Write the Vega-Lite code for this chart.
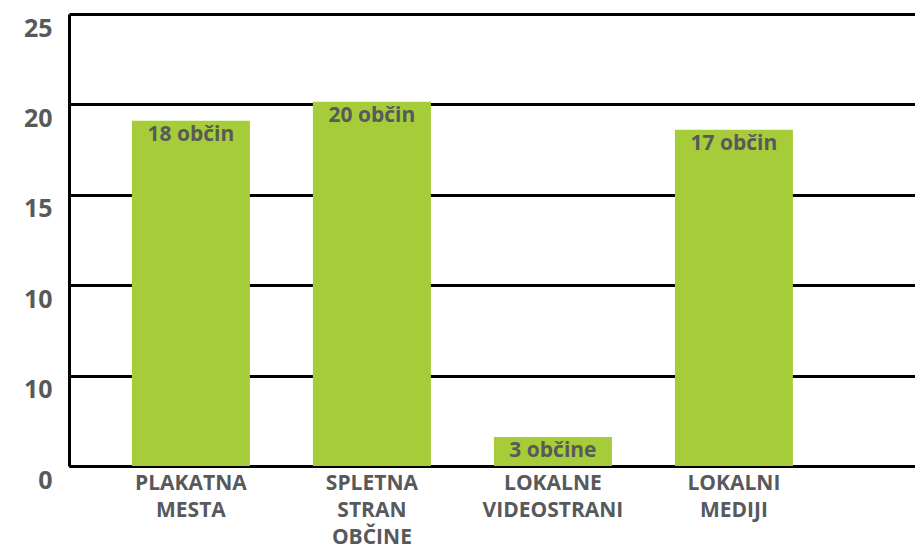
{
  "$schema": "https://vega.github.io/schema/vega-lite/v6.json",
  "autosize": "none",
  "width": 846,
  "height": 452,
  "padding": {"left": 69, "top": 14, "right": 0, "bottom": 83},
  "background": "white",
  "config": {
    "view": {"stroke": null},
    "font": "Open Sans"
  },
  "data": {
    "values": [
      {"kategorija": "PLAKATNA MESTA", "vrednost": 19.1, "oznaka": "18 občin"},
      {"kategorija": "SPLETNA STRAN OBČINE", "vrednost": 20.15, "oznaka": "20 občin"},
      {"kategorija": "LOKALNE VIDEOSTRANI", "vrednost": 1.6, "oznaka": "3 občine"},
      {"kategorija": "LOKALNI MEDIJI", "vrednost": 18.6, "oznaka": "17 občin"}
    ]
  },
  "encoding": {
    "x": {
      "field": "kategorija",
      "type": "nominal",
      "sort": null,
      "scale": {"paddingInner": 0.348, "paddingOuter": 0.511, "align": 0.34},
      "axis": {
        "title": null,
        "labelAngle": 0,
        "labelExpr": "split(datum.label, ' ')",
        "labelFont": "Open Sans",
        "labelFontWeight": "bold",
        "labelFontSize": 21,
        "labelColor": "#58595b",
        "labelLineHeight": 27,
        "labelPadding": 6,
        "labelBaseline": "top",
        "ticks": false,
        "domainColor": "#000000",
        "domainWidth": 3,
        "grid": false
      }
    },
    "y": {
      "field": "vrednost",
      "type": "quantitative",
      "scale": {"domain": [0, 25], "nice": false},
      "axis": {
        "title": null,
        "values": [0, 5, 10, 15, 20, 25],
        "labelExpr": "datum.value == 5 ? '10' : datum.label",
        "labelFont": "Open Sans",
        "labelFontWeight": "bold",
        "labelFontSize": 25,
        "labelColor": "#58595b",
        "labelPadding": 17,
        "labelBaseline": "middle",
        "labelOffset": 14,
        "ticks": false,
        "domainColor": "#000000",
        "domainWidth": 3,
        "grid": true,
        "gridColor": "#000000",
        "gridWidth": 3,
        "gridOpacity": 1
      }
    }
  },
  "layer": [
    {
      "mark": {"type": "bar", "color": "#a6cd39"}
    },
    {
      "mark": {
        "type": "text",
        "baseline": "middle",
        "dy": 14,
        "font": "Open Sans",
        "fontWeight": "bold",
        "fontSize": 21,
        "color": "#58595b"
      },
      "encoding": {"text": {"field": "oznaka"}}
    }
  ]
}
